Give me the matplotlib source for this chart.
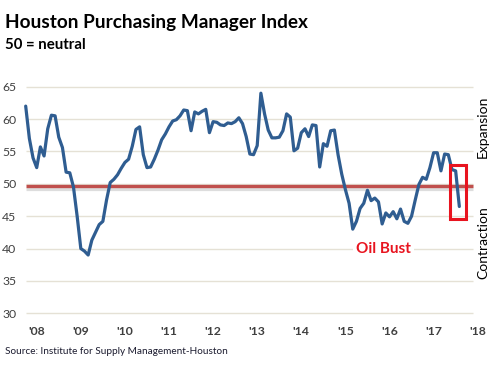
import numpy as np
import matplotlib
matplotlib.use("Agg")
import matplotlib.pyplot as plt
from matplotlib.patches import Rectangle

# ---------------- data ----------------
start_year = 2007.75          # Oct 2007, monthly series
pmi = [62.0, 57.0, 54.0, 52.5, 55.7, 54.3, 58.5, 60.6, 60.5, 57.2,
       55.6, 51.8, 51.7, 49.5, 45.0, 40.0, 39.6, 39.0, 41.3, 42.5,
       43.7, 44.2, 47.5, 50.2, 50.7, 51.4, 52.4, 53.3, 53.8, 55.8,
       58.4, 58.8, 54.5, 52.5, 52.6, 53.8, 55.2, 56.8, 57.7, 58.8,
       59.7, 59.9, 60.5, 61.4, 61.3, 58.2, 61.1, 60.8, 61.2, 61.5,
       57.9, 59.6, 59.5, 59.1, 59.0, 59.4, 59.3, 59.6, 60.2, 59.3,
       57.3, 54.6, 54.5, 55.9, 64.0, 60.8, 58.3, 57.1, 57.1, 57.2,
       58.2, 60.8, 60.3, 55.1, 55.5, 57.9, 58.5, 57.3, 59.1, 59.0,
       52.6, 56.2, 55.8, 58.2, 58.3, 54.5, 51.5, 49.1, 47.0, 43.0,
       44.2, 46.2, 47.0, 49.0, 47.4, 47.8, 47.2, 43.8, 45.5, 44.9,
       45.7, 44.6, 46.1, 44.2, 43.9, 45.0, 47.5, 49.9, 51.0, 50.7,
       52.5, 54.8, 54.8, 52.0, 54.6, 54.5, 52.2, 52.0, 46.5]
neutral = 49.6
year_ticks = list(range(2008, 2019))
year_labels = ["'08", "'09", "'10", "'11", "'12", "'13", "'14", "'15", "'16", "'17", "'18"]
y_ticks = [30, 35, 40, 45, 50, 55, 60, 65]
box_x = [2017.375, 2017.737]
box_y = [44.5, 52.85]

x = start_year + np.arange(len(pmi)) / 12.0

W, H = 496, 366
fig = plt.figure(figsize=(W / 100, H / 100), dpi=100)
FONT = ["Lato", "DejaVu Sans"]
plt.rcParams['font.family'] = FONT

# axes: left edge at px 26, data right end 2018.05
x_left, x_right = 2007.757, 2018.05
ax_l = 26 / W
ax_r = (36.7 + 44.1 * (x_right - 2008)) / W
ax_b = (H - 313.3) / H
ax_t = (H - 86.7) / H
ax = fig.add_axes([ax_l, ax_b, ax_r - ax_l, ax_t - ax_b])
ax.set_xlim(x_left, x_right)
ax.set_ylim(30, 65)
for s in ax.spines.values():
    s.set_visible(False)

grid_end = 2017.894
ax.hlines(y_ticks, x_left, grid_end, color="#E5E1D5", lw=1.0, zorder=1, clip_on=False)

# neutral line with soft shadow
ax.hlines([neutral - 0.35], x_left, grid_end, color="#BDBDBD", lw=2.3, alpha=0.5, zorder=2, clip_on=False)
ax.hlines([neutral], x_left, grid_end, color="#C0504D", lw=2.4, zorder=3, clip_on=False)

ax.plot(x, pmi, color="#2F5D91", lw=2.3, solid_joinstyle="round", solid_capstyle="round",
        zorder=4, clip_on=False)

ax.add_patch(Rectangle((box_x[0], box_y[0]), box_x[1] - box_x[0], box_y[1] - box_y[0],
                       fill=False, edgecolor="#E8141F", lw=2.2, zorder=5, clip_on=False))

ax.text(2015.86, 40, "Oil Bust", color="#E8141F", fontsize=11, fontweight="bold",
        ha="center", va="center", zorder=5,
        bbox=dict(facecolor="white", edgecolor="none", pad=2))

ax.set_yticks(y_ticks)
ax.set_yticklabels([str(v) for v in y_ticks], color="#404040", fontsize=8.8)
ax.set_xticks(year_ticks)
ax.set_xticklabels(year_labels, color="#404040", fontsize=8.8, fontweight="bold")
ax.tick_params(axis="y", length=0, pad=7)
ax.tick_params(axis="x", length=0, pad=9)

# titles and side labels
fig.text(5 / W, 1 - 28 / H, "Houston Purchasing Manager Index", fontsize=13.7, fontweight="bold",
         color="black", ha="left", va="baseline")
fig.text(5 / W, 1 - 49 / H, "50 = neutral", fontsize=10.8, fontweight="bold",
         color="black", ha="left", va="baseline")
fig.text(5 / W, 1 - 354 / H, "Source: Institute for Supply Management-Houston", fontsize=7.2,
         color="#1B1B2F", ha="left", va="baseline")
fig.text(483 / W, 1 - 126.7 / H, "Expansion", fontsize=10, rotation=90, color="black",
         ha="center", va="center")
fig.text(483 / W, 1 - 242.5 / H, "Contraction", fontsize=10, rotation=90, color="black",
         ha="center", va="center")

fig.savefig("out.png", dpi=100, facecolor="white")
